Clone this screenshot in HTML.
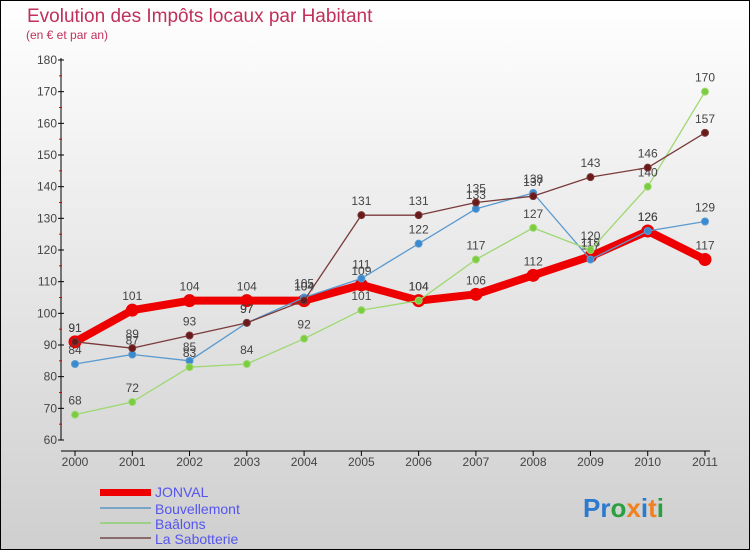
<!DOCTYPE html>
<html><head><meta charset="utf-8"><style>
body{margin:0}
#c{width:750px;height:550px;position:relative;overflow:hidden;font-family:"Liberation Sans",sans-serif}
</style></head><body>
<div id="c">
<svg id="s" width="750" height="550" xmlns="http://www.w3.org/2000/svg">
<defs><linearGradient id="bg" x1="0" y1="0" x2="0" y2="1"><stop offset="0" stop-color="#ffffff"/><stop offset="1" stop-color="#cfcfcf"/></linearGradient></defs>
<rect x="0.5" y="0.5" width="749" height="549" fill="url(#bg)" stroke="#000"/>
<text x="27" y="22" font-size="19" fill="#c0305a">Evolution des Impôts locaux par Habitant</text>
<text x="26" y="39" font-size="12" fill="#c0305a">(en € et par an)</text>
<g id="axes"></g><g id="plot"></g>
<g>
<rect x="100" y="489" width="51" height="7" fill="#e00"/>
<text x="155" y="497" font-size="14" fill="#5555ee">JONVAL</text>
<rect x="100" y="507" width="51" height="2" fill="#7aa6c6"/>
<text x="155" y="514" font-size="14" fill="#5555ee">Bouvellemont</text>
<rect x="100" y="522" width="51" height="2" fill="#9ed08a"/>
<text x="155" y="529" font-size="14" fill="#5555ee">Baâlons</text>
<rect x="100" y="537" width="51" height="2" fill="#8a6a6a"/>
<text x="155" y="544" font-size="14" fill="#5555ee">La Sabotterie</text>
</g>
<text x="583" y="517" font-size="26" font-weight="bold"><tspan fill="#2a7ad0">Pr</tspan><tspan fill="#2aa040">o</tspan><tspan fill="#f08020">x</tspan><tspan fill="#2a7ad0">i</tspan><tspan fill="#f08020">t</tspan><tspan fill="#2aa040">i</tspan></text>
</svg></div>
<script>
const years=[2000,2001,2002,2003,2004,2005,2006,2007,2008,2009,2010,2011];
const jonval=[91,101,104,104,104,109,104,106,112,118,126,117];
const bouvellemont=[84,87,85,97,105,111,122,133,138,117,126,129];
const baalons=[68,72,83,84,92,101,104,117,127,120,140,170];
const sabotterie=[91,89,93,97,104,131,131,135,137,143,146,157];
const yTicks=[60,70,80,90,100,110,120,130,140,150,160,170,180];
const NS="http://www.w3.org/2000/svg";
const X=i=>75+i*(630/11), Y=v=>440-(v-60)*(380/120);
function mk(t,a,p){const e=document.createElementNS(NS,t);for(const k in a)e.setAttribute(k,a[k]);p.appendChild(e);return e;}
const ax=document.getElementById('axes'), pl=document.getElementById('plot');
let e=mk('line',{x1:61,y1:58,x2:61,y2:440,stroke:'#000'},ax);

e=mk('line',{x1:61,y1:451,x2:710,y2:451,stroke:'#000'},ax);

yTicks.forEach(v=>{
 let l=mk('line',{x1:58,y1:Y(v),x2:64,y2:Y(v),stroke:'#000'},ax);
 
 if(v<180){let m=mk('line',{x1:59,y1:Y(v+5),x2:62,y2:Y(v+5),stroke:'#d00'},ax);
 }
 let t=mk('text',{x:57,y:Y(v)+4,'font-size':12,fill:'#444','text-anchor':'end'},ax);t.textContent=v;
 
});
years.forEach((y,i)=>{
 let l=mk('line',{x1:X(i),y1:451,x2:X(i),y2:456,stroke:'#000'},ax);
 
 let t=mk('text',{x:X(i),y:466,'font-size':12,fill:'#444','text-anchor':'middle'},ax);t.textContent=y;
 
});
function series(d,name,col,dot,w,r){
 const g=mk('g',{},pl);
 
 let p=mk('polyline',{points:d.map((v,i)=>X(i)+','+Y(v)).join(' '),fill:'none',stroke:col,'stroke-width':w,'stroke-linejoin':'round'},g);
 
 d.forEach((v,i)=>{
  let c=mk('circle',{cx:X(i),cy:Y(v),r:r,fill:dot,stroke:col,'stroke-width':1},g);
  
  let t=mk('text',{x:X(i),y:Y(v)-10,'font-size':12,fill:'#444','text-anchor':'middle'},g);t.textContent=v;
  
 });
}
series(jonval,'jonval','#e00','#e00',8,6);
series(bouvellemont,'bouvellemont','#5a9ad0','#3a8ad0',1.3,3.5);
series(baalons,'baalons','#9ed870','#7acc40',1.3,3.5);
series(sabotterie,'la-sabotterie','#7a3a3a','#6a1a1a',1.3,3.5);
</script>
</body></html>
